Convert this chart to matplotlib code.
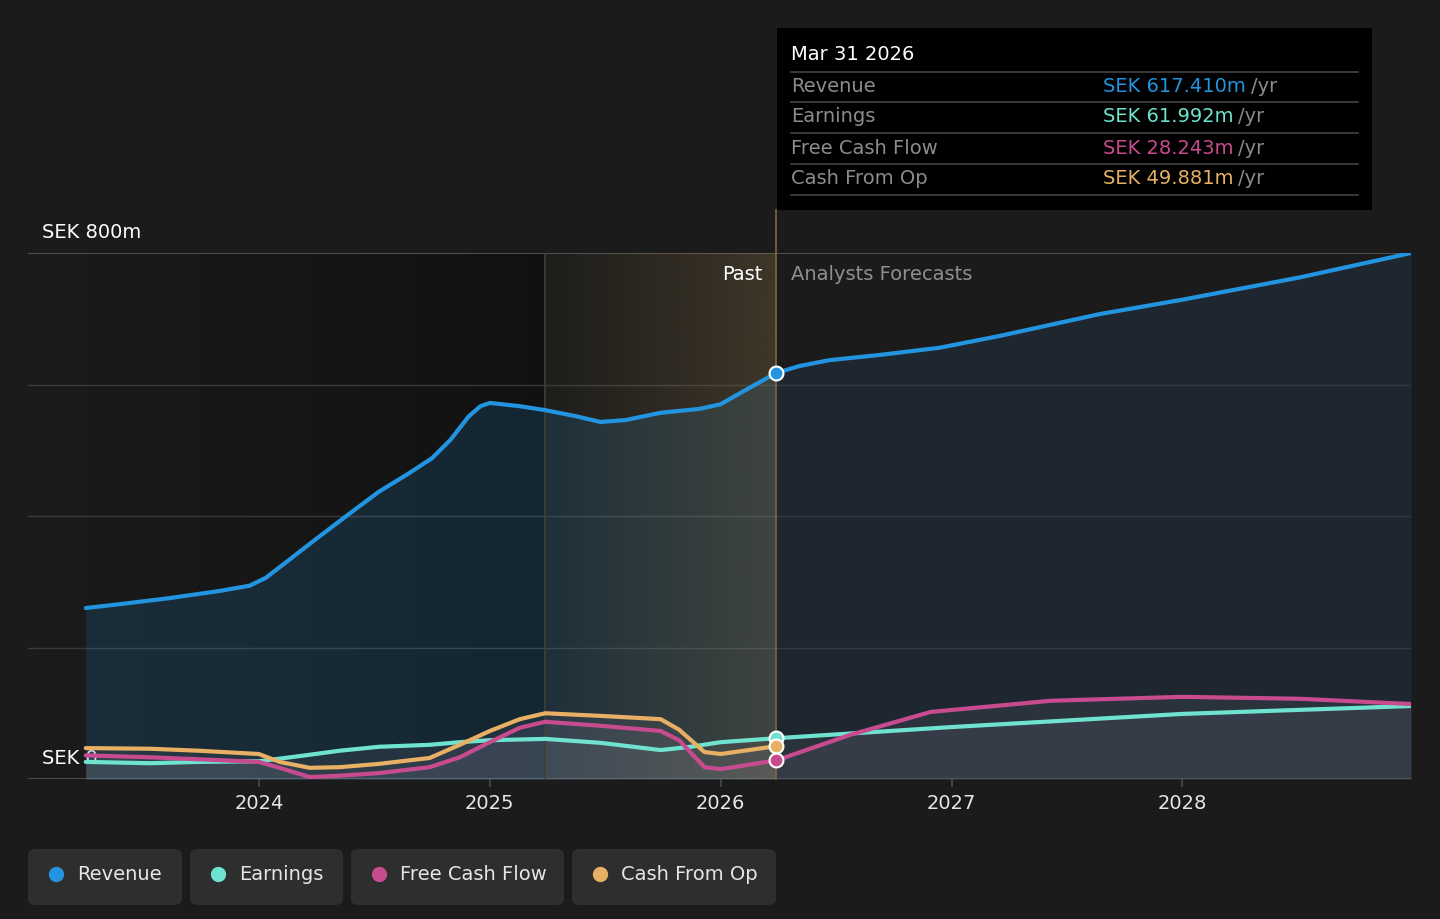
import matplotlib
matplotlib.use("Agg")
import matplotlib.pyplot as plt
import numpy as np
from matplotlib.patches import FancyBboxPatch, Rectangle
from matplotlib.lines import Line2D

# ---------------- data (SEK m) ----------------
rev_years = [2023.25, 2023.40, 2023.61, 2023.83, 2023.96, 2024.03, 2024.13, 2024.24, 2024.39,
             2024.52, 2024.65, 2024.75, 2024.83, 2024.91, 2024.96, 2025.00, 2025.13, 2025.24,
             2025.37, 2025.48, 2025.59, 2025.74, 2025.91, 2026.00, 2026.11, 2026.24]
rev_vals = [260, 266, 275, 286, 294, 306, 333, 363, 403,
            437, 465, 488, 516, 552, 567, 572, 567, 561,
            552, 543, 546, 557, 563, 570, 592, 617.41]
rev_fc_years = [2026.24, 2026.34, 2026.47, 2026.69, 2026.95, 2027.21, 2027.64, 2028.00, 2028.51, 2028.99]
rev_fc_vals = [617.41, 628, 637, 645, 656, 674, 707, 729, 763, 800]

earn_years = [2023.25, 2023.53, 2023.74, 2024.00, 2024.18, 2024.35, 2024.52, 2024.74, 2024.87,
              2025.00, 2025.24, 2025.48, 2025.74, 2025.87, 2026.00, 2026.24]
earn_vals = [26, 24, 26, 27, 35, 43, 49, 52, 56, 59, 61, 55, 44, 49, 56, 61.992]
earn_fc_years = [2026.24, 2027.00, 2028.00, 2028.99]
earn_fc_vals = [61.992, 79, 99, 111]

cash_years = [2023.25, 2023.53, 2023.74, 2024.00, 2024.09, 2024.22, 2024.35, 2024.52, 2024.74,
              2024.87, 2025.00, 2025.13, 2025.24, 2025.48, 2025.74, 2025.82, 2025.93, 2026.00, 2026.24]
fcf_vals = [36, 33, 30, 26, 17, 3, 5, 9, 18, 33, 56, 78, 87, 81, 73, 59, 18, 15, 28.243]
cfo_vals = [47, 46, 43, 38, 26, 17, 18, 23, 32, 52, 73, 91, 100, 96, 91, 75, 41, 38, 49.881]
fcf_fc_years = [2026.24, 2026.56, 2026.91, 2027.43, 2028.00, 2028.51, 2028.99]
fcf_fc_vals = [28.243, 67, 102, 119, 125, 122, 114]

x_ticks = [2024, 2025, 2026, 2027, 2028]
x_tick_labels = ["2024", "2025", "2026", "2027", "2028"]
tooltip_date = "Mar 31 2026"
tooltip_rows = [("Revenue", "SEK 617.410m"), ("Earnings", "SEK 61.992m"),
                ("Free Cash Flow", "SEK 28.243m"), ("Cash From Op", "SEK 49.881m")]
legend_names = ["Revenue", "Earnings", "Free Cash Flow", "Cash From Op"]

C_REV = "#2394df"
C_EARN = "#6fe3cf"
C_FCF = "#c84b8f"
C_CFO = "#e8b064"
colors = [C_REV, C_EARN, C_FCF, C_CFO]
BG = "#1b1b1b"
FS = 14

W, H = 1440, 919
fig = plt.figure(figsize=(W / 100, H / 100), dpi=100, facecolor=BG)

def fx(p):
    return p / W

def fy(p):
    return 1 - p / H

X0, X1 = 2023.0, 2028.99
ax = fig.add_axes([fx(28), fy(779), fx(1411) - fx(28), fy(253) - fy(779)])
ax.set_facecolor(BG)
ax.set_xlim(X0, X1)
ax.set_ylim(0, 800)
for s in ax.spines.values():
    s.set_visible(False)

PAST_START = 2025.24
NOW = 2026.24

# past background gradient (darker towards the right)
grad = np.linspace(0, 1, 256).reshape(1, -1)
dark = np.zeros((1, 256, 4))
dark[..., 3] = 0.35 * grad
ax.imshow(dark, extent=[X0, PAST_START, 0, 800], aspect="auto", zorder=0.5, interpolation="bicubic")

# gridlines
for v in [200, 400, 600]:
    ax.axhline(v, color="#3a3a3a", lw=1, zorder=1)
ax.axhline(800, color="#5a5a5a", lw=1.2, zorder=1)
ax.axhline(0, color="#4a4a4a", lw=1.5, zorder=1)

# "SEK 0" label sits beneath the lines
ax.text(2023.06, 800 * (779 - 758) / 526, "SEK 0", color="#ffffff", fontsize=FS,
        va="center", ha="left", zorder=1.2, clip_on=False)

# fills
ax.fill_between(rev_years, 0, rev_vals, color=C_REV, alpha=0.16, lw=0, zorder=1.5)
ax.fill_between(rev_fc_years, 0, rev_fc_vals, color="#25405a", alpha=0.35, lw=0, zorder=1.5)
for yrs, vals in [(earn_years, earn_vals), (cash_years, fcf_vals), (cash_years, cfo_vals),
                  (earn_fc_years, earn_fc_vals), (fcf_fc_years, fcf_fc_vals)]:
    ax.fill_between(yrs, 0, vals, color="#9a9aaa", alpha=0.10, lw=0, zorder=1.6)

# gold highlight gradient for past 12 months
gold = np.zeros((1, 256, 4))
gold[..., 0] = 175 / 255
gold[..., 1] = 140 / 255
gold[..., 2] = 80 / 255
gold[..., 3] = 0.02 + 0.22 * grad
ax.imshow(gold, extent=[PAST_START, NOW, 0, 800], aspect="auto", zorder=2, interpolation="bicubic")
ax.axvline(PAST_START, color="#444038", lw=1.2, zorder=2.1)
ax.plot([NOW, NOW], [0, 800 + (253 - 210) / 526 * 800], color="#7a6846", lw=1.2, zorder=2.1, clip_on=False)

# lines
lw = 3.0
kw = dict(lw=lw, solid_capstyle="round", solid_joinstyle="round")
ax.plot(earn_years, earn_vals, color=C_EARN, zorder=3, **kw)
ax.plot(earn_fc_years, earn_fc_vals, color=C_EARN, zorder=3, **kw)
ax.plot(cash_years, fcf_vals, color=C_FCF, zorder=3.1, **kw)
ax.plot(fcf_fc_years, fcf_fc_vals, color=C_FCF, zorder=3.1, **kw)
ax.plot(cash_years, cfo_vals, color=C_CFO, zorder=3.2, **kw)
ax.plot(rev_years, rev_vals, color=C_REV, zorder=3.3, **kw)
ax.plot(rev_fc_years, rev_fc_vals, color=C_REV, zorder=3.3, **kw)

# markers at the tooltip date
for vals, c in [(earn_vals, C_EARN), (cfo_vals, C_CFO), (fcf_vals, C_FCF), (rev_vals, C_REV)]:
    ax.plot([NOW], [vals[-1]], "o", ms=10, mfc=c, mec="white", mew=1.5, zorder=5, clip_on=False)

# x ticks
ax.set_xticks(x_ticks)
ax.set_xticklabels(x_tick_labels)
ax.set_yticks([])
ax.tick_params(axis="x", colors="#4a4a4a", length=6, width=1.2, pad=5, labelcolor="#e6e6e6", labelsize=FS)

# axis labels
fig.text(fx(42), fy(232), "SEK 800m", color="#ffffff", fontsize=FS, va="center", ha="left")
fig.text(fx(762), fy(274), "Past", color="#ffffff", fontsize=FS, va="center", ha="right")
fig.text(fx(791), fy(274), "Analysts Forecasts", color="#8f8f8f", fontsize=FS, va="center", ha="left")

# tooltip
fig.patches.append(Rectangle((fx(777), fy(210)), fx(1372) - fx(777), fy(28) - fy(210),
                             transform=fig.transFigure, facecolor="#000000", edgecolor="none", zorder=10))
fig.text(fx(791), fy(55), tooltip_date, color="#ffffff", fontsize=FS, va="center", ha="left", zorder=11)
sep_ys = [72, 102, 133, 164, 195]
for sy in sep_ys:
    fig.lines.append(Line2D([fx(791), fx(1358)], [fy(sy), fy(sy)], transform=fig.transFigure,
                            color="#444444", lw=1.2, zorder=11))
row_ys = [86, 116, 148, 178]
for (name, val), ry, c in zip(tooltip_rows, row_ys, colors):
    fig.text(fx(791), fy(ry), name, color="#8c8c8c", fontsize=FS, va="center", ha="left", zorder=11)
    t = fig.text(fx(1103), fy(ry), val, color=c, fontsize=FS, va="center", ha="left", zorder=11)
    fig.canvas.draw()
    bb = t.get_window_extent()
    fig.text(bb.x1 / W + fx(5), fy(ry), "/yr", color="#8c8c8c", fontsize=FS, va="center", ha="left", zorder=11)

# legend
boxes = [(28, 182), (190, 343), (351, 564), (572, 776)]
for (x0, x1), name, c in zip(boxes, legend_names, colors):
    fig.patches.append(FancyBboxPatch((fx(x0), fy(905)), fx(x1) - fx(x0), fy(849) - fy(905),
                                      boxstyle="round,pad=0,rounding_size=0.006",
                                      transform=fig.transFigure, facecolor="#2e2e2e",
                                      edgecolor="none", zorder=10))
    fig.lines.append(Line2D([fx(x0 + 28)], [fy(874)], marker="o", ms=11, mfc=c, mec="none",
                            transform=fig.transFigure, zorder=11))
    fig.text(fx(x0 + 49), fy(874), name, color="#e6e6e6", fontsize=FS, va="center", ha="left", zorder=11)

fig.savefig("out.png", dpi=100, facecolor=BG)
